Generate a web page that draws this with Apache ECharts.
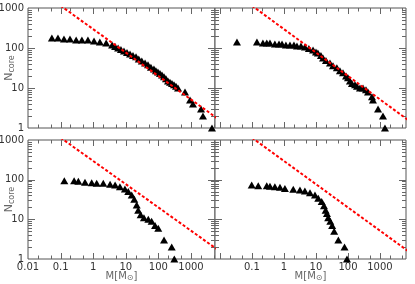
<!DOCTYPE html>
<html><head><meta charset="utf-8">
<script src="https://cdn.jsdelivr.net/npm/echarts@6/dist/echarts.min.js"></script>
<style>html,body{margin:0;padding:0;background:#fff}#c{width:415px;height:284px}</style>
</head><body><div id="c"></div>
<script>
// ---- data ----
const xTickLabels = ['0.01', '0.1', '1', '10', '100', '1000'];
const yTickLabels = ['1', '10', '100', '1000'];
const xMajorTicks = [0.01, 0.1, 1, 10, 100, 1000];
const xMinorTicks = [0.02, 0.05, 0.2, 0.5, 2, 5, 20, 50, 200, 500, 2000, 5000];
const yMajorTicks = [1, 10, 100, 1000];
const yMinorTicks = [2, 3, 4, 5, 6, 7, 8, 9, 20, 30, 40, 50, 60, 70, 80, 90, 200, 300, 400, 500, 600, 700, 800, 900];
const redLine = [[0.1, 1140], [8000, 1.53]];

const topLeftCores = [[0.054,178],[0.083,178],[0.127,167],[0.194,167],[0.30,158],[0.45,158],[0.69,158],[1.06,150],[1.6,141],[2.5,133],[3.8,119],[4.7,109],[5.8,100],[7.1,92],[8.8,84],[10.9,77],[13.5,71],[16.6,65],[20.6,60],[25,53],[31,47],[39,42],[48,38],[59,33],[73,30],[84,27],[97,25],[112,23],[129,21],[149,19],[171,17],[197,15],[227,14],[261,13],[301,12],[347,11],[400,10],[655,8],[935,5],[1150,4],[2030,3],[2330,2],[4400,1]];
const topRightCores = [[0.034,141],[0.143,141],[0.22,133],[0.29,133],[0.365,133],[0.52,126],[0.70,126],[0.87,126],[1.15,119],[1.54,119],[2.05,119],[2.55,112],[3.4,112],[4.5,106],[6.0,97],[8.1,89],[10,79],[11.5,75],[14.3,65],[16.6,56],[20.5,49],[27.4,42],[34,36],[45,32],[56,27],[70,24],[87,20],[100,18],[115,15],[133,13],[166,12],[191,11],[237,10],[295,10],[365,9],[422,8],[562,6],[603,5],[870,3],[1240,2],[1430,1]];
const bottomLeftCores = [[0.13,94],[0.26,94],[0.35,91],[0.56,86],[0.90,84],[1.28,81],[2.04,81],[3.3,77],[4.7,73],[6.6,66],[9.4,58],[11.9,50],[15.2,41],[18.2,32],[21.6,23],[24,17],[28.6,13],[36,11],[49,10],[62,9],[79,7],[99,6],[149,3],[256,2],[308,1]];
const bottomRightCores = [[0.098,73],[0.157,70],[0.29,70],[0.365,68],[0.52,66],[0.75,64],[1.07,60],[1.95,57],[3.16,55],[4.5,52],[6.5,47],[9.3,41],[11.8,34],[15.1,28],[17.8,22],[20,17],[22,14],[24,11],[28,9],[32,7],[37,5],[50,3],[78,2],[93,1]];

// ---- layout ----
const panels = [
  {rect:{left:28, top:8, width:187, height:120}, xMin:0.01, xMax:5450, xLabels:[], yLabels:true, xName:false, data:topLeftCores},
  {rect:{left:215, top:8, width:191, height:120}, xMin:0.007, xMax:6500, xLabels:[], yLabels:false, xName:false, data:topRightCores},
  {rect:{left:28, top:140, width:187, height:119}, xMin:0.01, xMax:5450, xLabels:['0.01','0.1','1','10','100','1000'], yLabels:true, xName:true, data:bottomLeftCores},
  {rect:{left:215, top:140, width:191, height:119}, xMin:0.007, xMax:6500, xLabels:['0.1','1','10','100','1000'], yLabels:false, xName:true, data:bottomRightCores}
];

const FONT = 'DejaVu Sans';
const LABEL_COLOR = '#333';
const NAME_COLOR = '#666';
const TICK_COLOR = '#666';

function decadeFormatter(labels, allowed) {
  return function (v) {
    const e = Math.log10(v);
    const r = Math.round(e);
    if (Math.abs(e - r) > 1e-6) return '';
    const s = labels.find(t => Math.round(Math.log10(parseFloat(t))) === r);
    return s && allowed.indexOf(s) >= 0 ? s : '';
  };
}

function tickRenderer(p) {
  return function (params, api) {
    const kind = api.value(2), major = api.value(3);
    const style = {stroke: TICK_COLOR, lineWidth: 1};
    if (kind === 0) {
      const len = major ? 6 : 3.5;
      const v = api.value(0);
      const b = api.coord([v, 1]);
      const t = api.coord([v, 1000]);
      const x = Math.round(b[0]) + 0.5;
      return {type:'group', children:[
        {type:'line', shape:{x1:x, y1:b[1], x2:x, y2:b[1]-len}, style:style},
        {type:'line', shape:{x1:x, y1:t[1], x2:x, y2:t[1]+len}, style:style}
      ]};
    } else {
      const len = major ? 7 : 4;
      const v = api.value(1);
      const l = api.coord([p.xMin, v]);
      const r = api.coord([p.xMax, v]);
      const y = Math.round(l[1]) + 0.5;
      return {type:'group', children:[
        {type:'line', shape:{x1:l[0], y1:y, x2:l[0]+len, y2:y}, style:style},
        {type:'line', shape:{x1:r[0], y1:y, x2:r[0]-len, y2:y}, style:style}
      ]};
    }
  };
}

const grid = [], xAxis = [], yAxis = [], series = [];
panels.forEach((p, i) => {
  grid.push(Object.assign({show:true, borderColor:'#555', borderWidth:1, backgroundColor:'#fff',
    containLabel:false, outerBoundsMode:'none'}, p.rect));
  xAxis.push({
    type:'log', logBase:10, gridIndex:i, min:p.xMin, max:p.xMax,
    axisLine:{show:false}, axisTick:{show:false}, splitLine:{show:false},
    axisLabel:{show:p.xLabels.length>0, margin:3, fontFamily:FONT, fontSize:10, color:LABEL_COLOR,
      showMinLabel:true, showMaxLabel:true, formatter:decadeFormatter(xTickLabels, p.xLabels)},
    name: p.xName ? '{m|M[M}{s|\u2299}{m|]}' : '',
    nameLocation:'middle', nameGap:12, nameMoveOverlap:false,
    nameTextStyle:{color:NAME_COLOR, fontFamily:FONT, fontSize:10,
      rich:{m:{fontFamily:FONT, fontSize:10, color:NAME_COLOR, lineHeight:11, verticalAlign:'top'},
            s:{fontFamily:FONT, fontSize:8, color:NAME_COLOR, lineHeight:9, padding:[6,0,0,0], verticalAlign:'bottom'}}}
  });
  yAxis.push({
    type:'log', logBase:10, gridIndex:i, min:1, max:1000,
    axisLine:{show:false}, axisTick:{show:false}, splitLine:{show:false},
    axisLabel:{show:p.yLabels, margin:4, fontFamily:FONT, fontSize:10, color:LABEL_COLOR,
      showMinLabel:true, showMaxLabel:true, formatter:decadeFormatter(yTickLabels, yTickLabels)},
    name: p.yLabels ? '{m|N}{s|core}' : '',
    nameLocation:'middle', nameGap:12, nameRotate:90, nameMoveOverlap:false,
    nameTextStyle:{color:NAME_COLOR, fontFamily:FONT, fontSize:11,
      rich:{m:{fontFamily:FONT, fontSize:11, color:NAME_COLOR, lineHeight:12, verticalAlign:'top'},
            s:{fontFamily:FONT, fontSize:8, color:NAME_COLOR, lineHeight:9, padding:[6,0,0,0], verticalAlign:'bottom'}}}
  });
  const tickData = [];
  xMajorTicks.forEach(v => { if (v > p.xMin && v < p.xMax) tickData.push([v, 1, 0, 1]); });
  xMinorTicks.forEach(v => { if (v > p.xMin && v < p.xMax) tickData.push([v, 1, 0, 0]); });
  yMajorTicks.forEach(v => { if (v > 1 && v < 1000) tickData.push([p.xMin, v, 1, 1]); });
  yMinorTicks.forEach(v => tickData.push([p.xMin, v, 1, 0]));
  series.push({type:'custom', xAxisIndex:i, yAxisIndex:i, data:tickData, renderItem:tickRenderer(p), silent:true, z:1, encode:{x:0, y:1}});
  series.push({type:'scatter', xAxisIndex:i, yAxisIndex:i, data:p.data, symbol:'triangle', symbolSize:[8,7],
    itemStyle:{color:'#000', opacity:1}, z:3, silent:true});
  series.push({type:'line', xAxisIndex:i, yAxisIndex:i, data:redLine, showSymbol:false, clip:true,
    lineStyle:{color:'#ff0000', width:2, type:[3,2]}, z:4, silent:true});
});

const chart = echarts.init(document.getElementById('c'), null, {renderer:'canvas'});
chart.setOption({animation:false, backgroundColor:'#fff', grid:grid, xAxis:xAxis, yAxis:yAxis, series:series});
</script>
</body></html>
